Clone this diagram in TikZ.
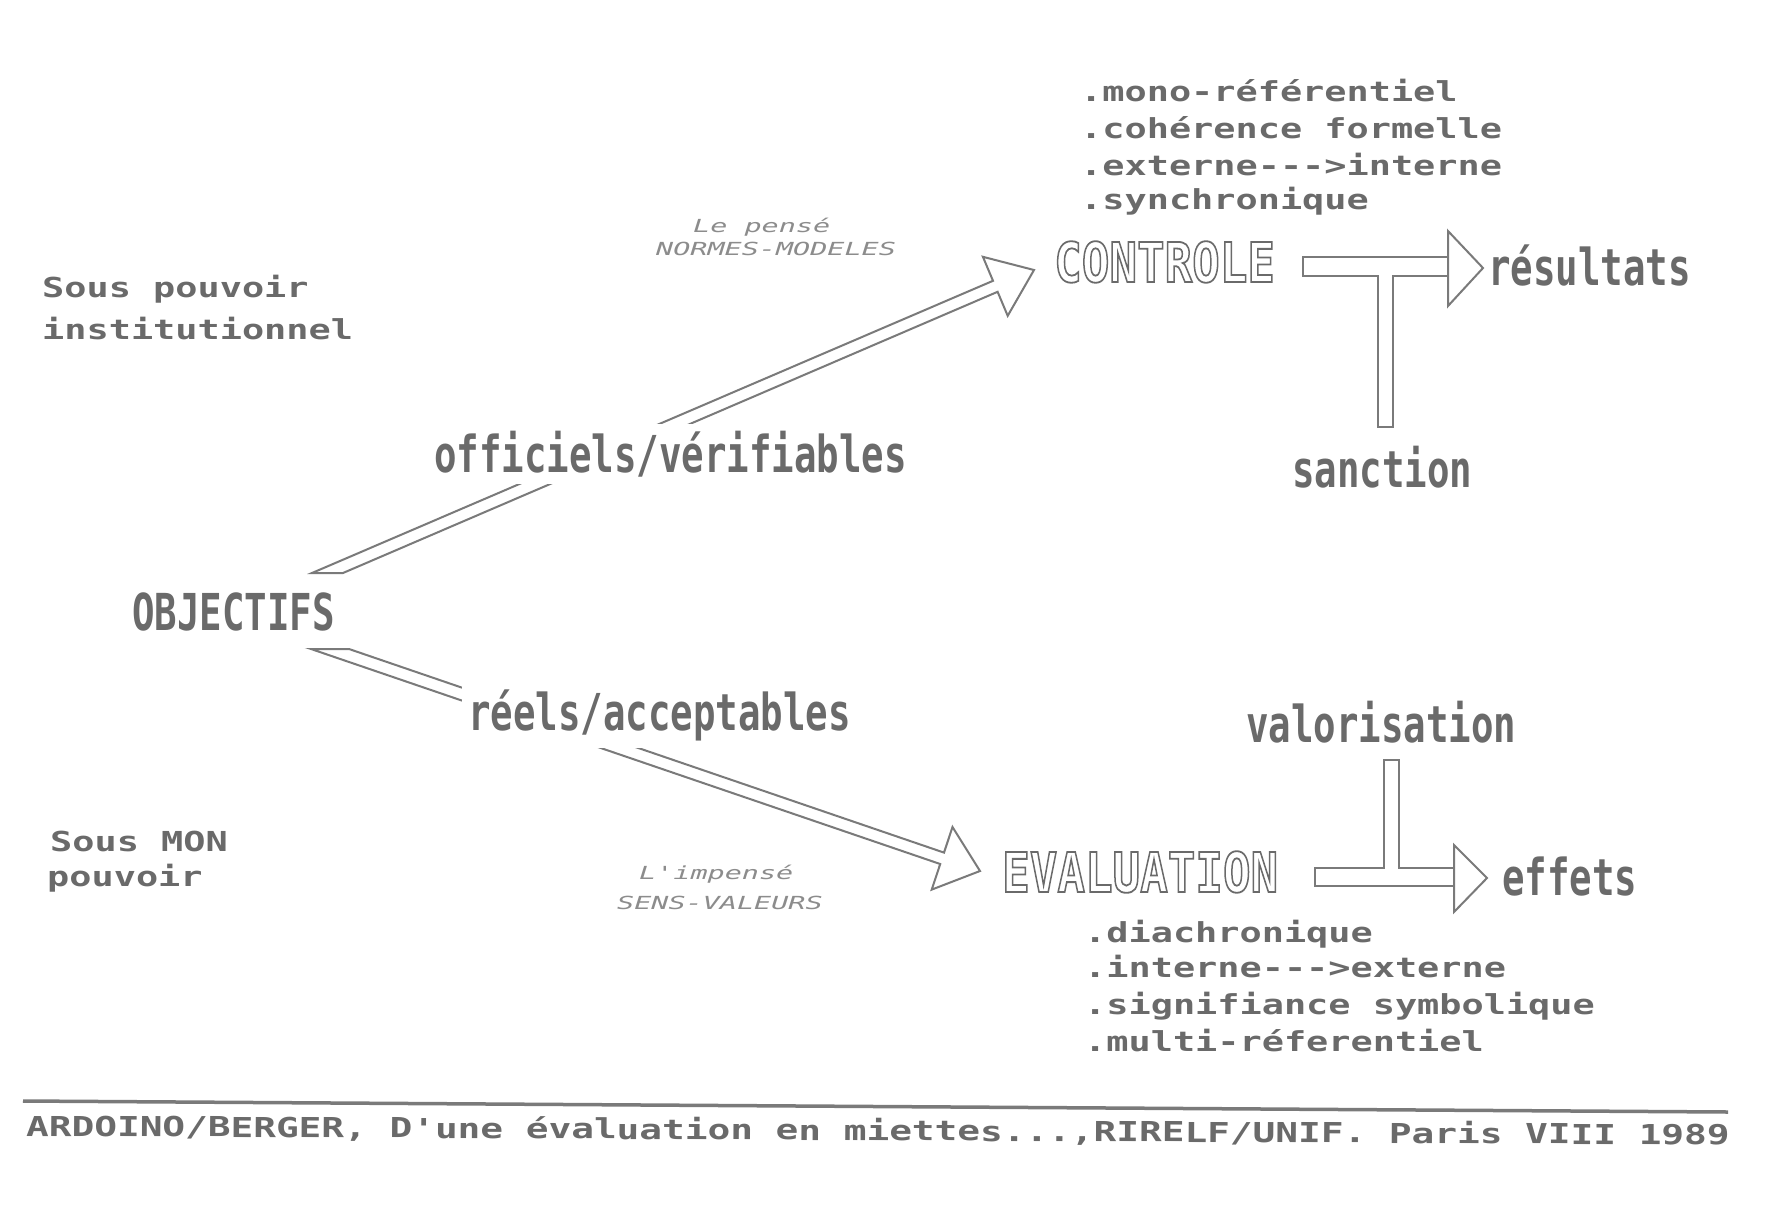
\documentclass[tikz,border=0pt]{standalone}
\usepackage{fontspec}
\usepackage{graphicx}
\newfontfamily\dmf{DejaVu Sans Mono}[Ligatures=TeXOff]
\definecolor{ink}{HTML}{6A6A6A}
\definecolor{lineink}{HTML}{7A7A7A}
\definecolor{faint}{HTML}{8C8C8C}
\newcommand\smtxt[1]{\scalebox{1.341}[1]{#1}}
\newcommand\foottxt[1]{\scalebox{1.372}[1]{#1}}
\newcommand\bigtxt[1]{\scalebox{1.36}[1.85]{#1}}
\newcommand\ittxt[1]{\scalebox{1.58}[1]{#1}}
\newcommand\hollowtxt[1]{\scalebox{1.667}[2.0]{\special{pdf:literal direct 1 Tr 0.9 w}#1\special{pdf:literal direct 0 Tr}}}
\tikzset{
  smallmono/.style={font=\dmf\bfseries\fontsize{27.5}{30}\selectfont, text=ink, inner sep=0pt, anchor=base west},
  bigmono/.style={font=\dmf\bfseries\fontsize{27.5}{30}\selectfont, text=ink, inner sep=0pt, anchor=base west},
  itmono/.style={font=\dmf\itshape\fontsize{18}{20}\selectfont, text=faint, inner sep=0pt, anchor=base west},
  hollowword/.style={font=\dmf\bfseries\fontsize{27.5}{30}\selectfont, text=ink, inner sep=0pt, anchor=base west},
  gaplabel/.style={bigmono, fill=white, inner xsep=6pt, inner ysep=7pt},
  shaft/.style={draw=lineink, line width=2pt, line join=miter},
}
\begin{document}
\begin{tikzpicture}[x=1pt,y=-1pt]
\fill[white] (0,0) rectangle (1788,1210);
\useasboundingbox (0,0) rectangle (1788,1210);

% upper double arrow (OBJECTIFS -> CONTROLE)
\coordinate (uA1) at (312,573);
\coordinate (uA2) at (343,573);
\coordinate (uU1) at (993.0,280.8);
\coordinate (uU2) at (997.6,291.8);
\coordinate (uH1) at (982.9,256.8);
\coordinate (uT)  at (1034,270);
\coordinate (uH2) at (1007.7,315.8);
\draw[shaft] (uA1) -- (uU1) -- (uH1) -- (uT) -- (uH2) -- (uU2) -- (uA2) -- cycle;

% lower double arrow (OBJECTIFS -> EVALUATION)
\coordinate (lA2) at (311,649);
\coordinate (lA1) at (349,649);
\coordinate (lU1) at (944.0,852.6);
\coordinate (lU2) at (940.2,864.0);
\coordinate (lH1) at (952.5,827.0);
\coordinate (lT)  at (980,871);
\coordinate (lH2) at (931.7,889.6);
\draw[shaft] (lA2) -- (lU2) -- (lH2) -- (lT) -- (lH1) -- (lU1) -- (lA1) -- cycle;

% T arrow CONTROLE -> resultats / sanction
\draw[shaft] (1448,257) -- (1303,257) -- (1303,276) -- (1378,276) -- (1378,427) -- (1393,427) -- (1393,276) -- (1448,276);
\draw[shaft] (1448,231) -- (1483,268) -- (1448,306) -- cycle;

% T arrow EVALUATION -> effets / valorisation
\draw[shaft] (1454,886) -- (1315,886) -- (1315,868) -- (1384,868) -- (1384,760) -- (1399,760) -- (1399,868) -- (1454,868);
\draw[shaft] (1454,845) -- (1487,878) -- (1454,912) -- cycle;

% left notes
\node[smallmono] (sp1) at (42,297) {\smtxt{Sous pouvoir}};
\node[smallmono] (sp2) at (42,339) {\smtxt{institutionnel}};
\node[smallmono] (sm1) at (50,851) {\smtxt{Sous MON}};
\node[smallmono] (sm2) at (47,886) {\smtxt{pouvoir}};

% big labels
\node[bigmono] (obj) at (132,630) {\bigtxt{OBJECTIFS}};
\node[gaplabel] (off) at (428,472) {\bigtxt{officiels/vérifiables}};
\node[gaplabel] (reel) at (462,730) {\bigtxt{réels/acceptables}};
\node[bigmono] (res) at (1488,285) {\bigtxt{résultats}};
\node[bigmono] (sanc) at (1292,487) {\bigtxt{sanction}};
\node[bigmono] (valo) at (1246,742) {\bigtxt{valorisation}};
\node[bigmono] (eff) at (1502,895) {\bigtxt{effets}};

% hollow words
\node[hollowword] (ctrl) at (1054,282) {\hollowtxt{CONTROLE}};
\node[hollowword] (eval) at (1002,892) {\hollowtxt{EVALUATION}};

% italic notes
\node[itmono] (lp1) at (693,232) {\ittxt{Le pensé}};
\node[itmono] (lp2) at (656,255) {\ittxt{NORMES-MODELES}};
\node[itmono] (li1) at (639,879) {\ittxt{L'impensé}};
\node[itmono] (li2) at (617,909) {\ittxt{SENS-VALEURS}};

% control list
\node[smallmono] (c1) at (1080,101) {\smtxt{.mono-référentiel}};
\node[smallmono] (c2) at (1080,138) {\smtxt{.cohérence formelle}};
\node[smallmono] (c3) at (1080,175) {\smtxt{.externe--->interne}};
\node[smallmono] (c4) at (1080,209) {\smtxt{.synchronique}};

% evaluation list
\node[smallmono] (e1) at (1084,942) {\smtxt{.diachronique}};
\node[smallmono] (e2) at (1084,977) {\smtxt{.interne--->externe}};
\node[smallmono] (e3) at (1084,1014) {\smtxt{.signifiance symbolique}};
\node[smallmono] (e4) at (1084,1051) {\smtxt{.multi-réferentiel}};

% footer
\coordinate (rl) at (23,1101);
\coordinate (rr) at (1728,1112);
\draw[lineink, line width=3.5pt] (rl) -- (rr);
\node[smallmono, rotate=-0.3] (cite) at (26,1136) {\foottxt{ARDOINO/BERGER, D'une évaluation en miettes...,RIRELF/UNIF. Paris VIII 1989}};
\end{tikzpicture}
\end{document}
